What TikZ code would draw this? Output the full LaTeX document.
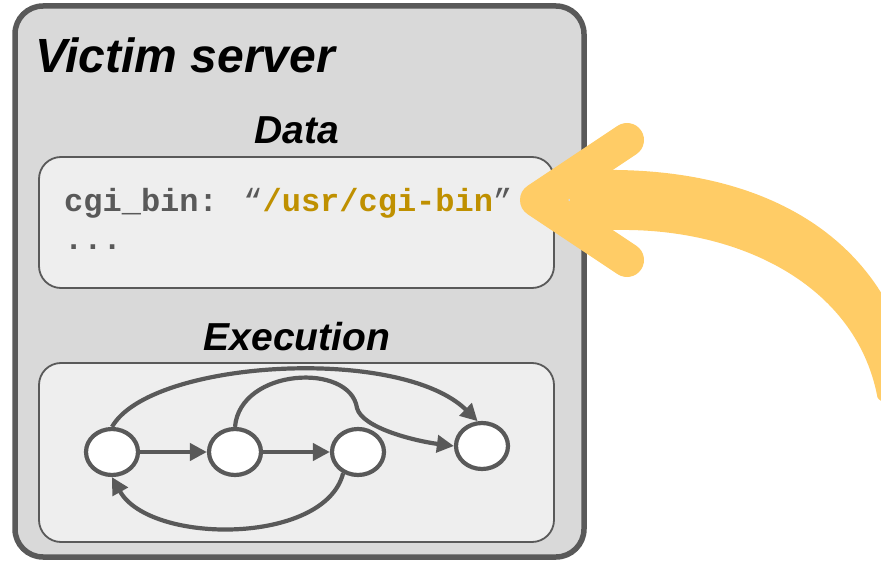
\documentclass[tikz,border=0pt]{standalone}
\usepackage{fontspec}
\setmainfont{Liberation Sans}
\newfontfamily\codefont{Liberation Mono}
\usetikzlibrary{shapes.geometric,arrows.meta}
\definecolor{framegray}{HTML}{595959}
\definecolor{outerfill}{HTML}{D9D9D9}
\definecolor{innerfill}{HTML}{EEEEEE}
\definecolor{pathgold}{HTML}{BF9000}
\definecolor{injectyellow}{HTML}{FFCC66}
\tikzset{
  server/.style={draw=framegray, line width=5.5pt, fill=outerfill, rounded corners=28pt},
  panel/.style={draw=framegray, line width=1.8pt, fill=innerfill, rounded corners=22pt},
  bigtitle/.style={font=\fontsize{48}{48}\selectfont\bfseries\itshape, inner sep=0pt, anchor=base west},
  heading/.style={font=\fontsize{39}{39}\selectfont\bfseries\itshape, inner sep=0pt, anchor=base},
  codeline/.style={font=\codefont\fontsize{32}{32}\selectfont\bfseries, text=framegray, inner sep=0pt, anchor=base west},
  state/.style={ellipse, draw=framegray, line width=4.2pt, fill=white, minimum width=52pt, minimum height=46pt, inner sep=0pt},
  edge/.style={draw=framegray, line width=4.2pt, -{Triangle[length=17pt,width=17pt]}},
  bigarrow/.style={injectyellow, line width=34pt, line cap=round, line join=round},
}
\newcommand{\quoted}[1]{{\mdseries “}\textcolor{pathgold}{#1}{\mdseries ”}}
\begin{document}
\begin{tikzpicture}[x=1pt,y=-1pt]
\useasboundingbox (0,0) rectangle (881,564);

% server frame and its two panels
\draw[server] (15,6) rectangle (584,557);
\draw[panel] (39,157) rectangle (554,288);
\draw[panel] (39,363) rectangle (554,542);

% headings
\node[bigtitle] (title) at (35,73) {Victim server};
\node[heading] (datahead) at (297,144) {Data};
\node[heading] (exechead) at (297,350) {Execution};

% data contents
\node[codeline] (cgi) at (64,211.5) {cgi\_bin: \quoted{/usr/cgi-bin}};
\node[codeline] (more) at (64,250) {...};

% control-flow graph
\node[state] (n1) at (112,452) {};
\node[state] (n2) at (235,452) {};
\node[state] (n3) at (358,452) {};
\node[state] (n4) at (482,446) {};

\draw[edge] (n1) -- (n2);
\draw[edge] (n2) -- (n3);
\draw[edge] (n1.north) .. controls (150,360) and (400,345) .. (n4.100);
\draw[edge] (n2.north) .. controls (240,368) and (350,362) .. (357,408)
            .. controls (362,428) and (415,441) .. (n4.west);
\draw[edge] (n3.235) .. controls (325,545) and (150,545) .. (n1.south);

% injection arrow pointing at the data panel
\begin{scope}
  \clip (0,0) rectangle (881,564);
  \fill[injectyellow] (570,170) -- (617,170)
      .. controls (760,172) and (860,230) .. (900,330)
      -- (905,400) -- (885,402)
      .. controls (879,401) and (877,398) .. (877,395)
      .. controls (855,285) and (740,228) .. (617,230)
      -- (570,230) -- cycle;
\end{scope}
\draw[bigarrow] (627,140) -- (537,200) -- (627,260);
\end{tikzpicture}
\end{document}
